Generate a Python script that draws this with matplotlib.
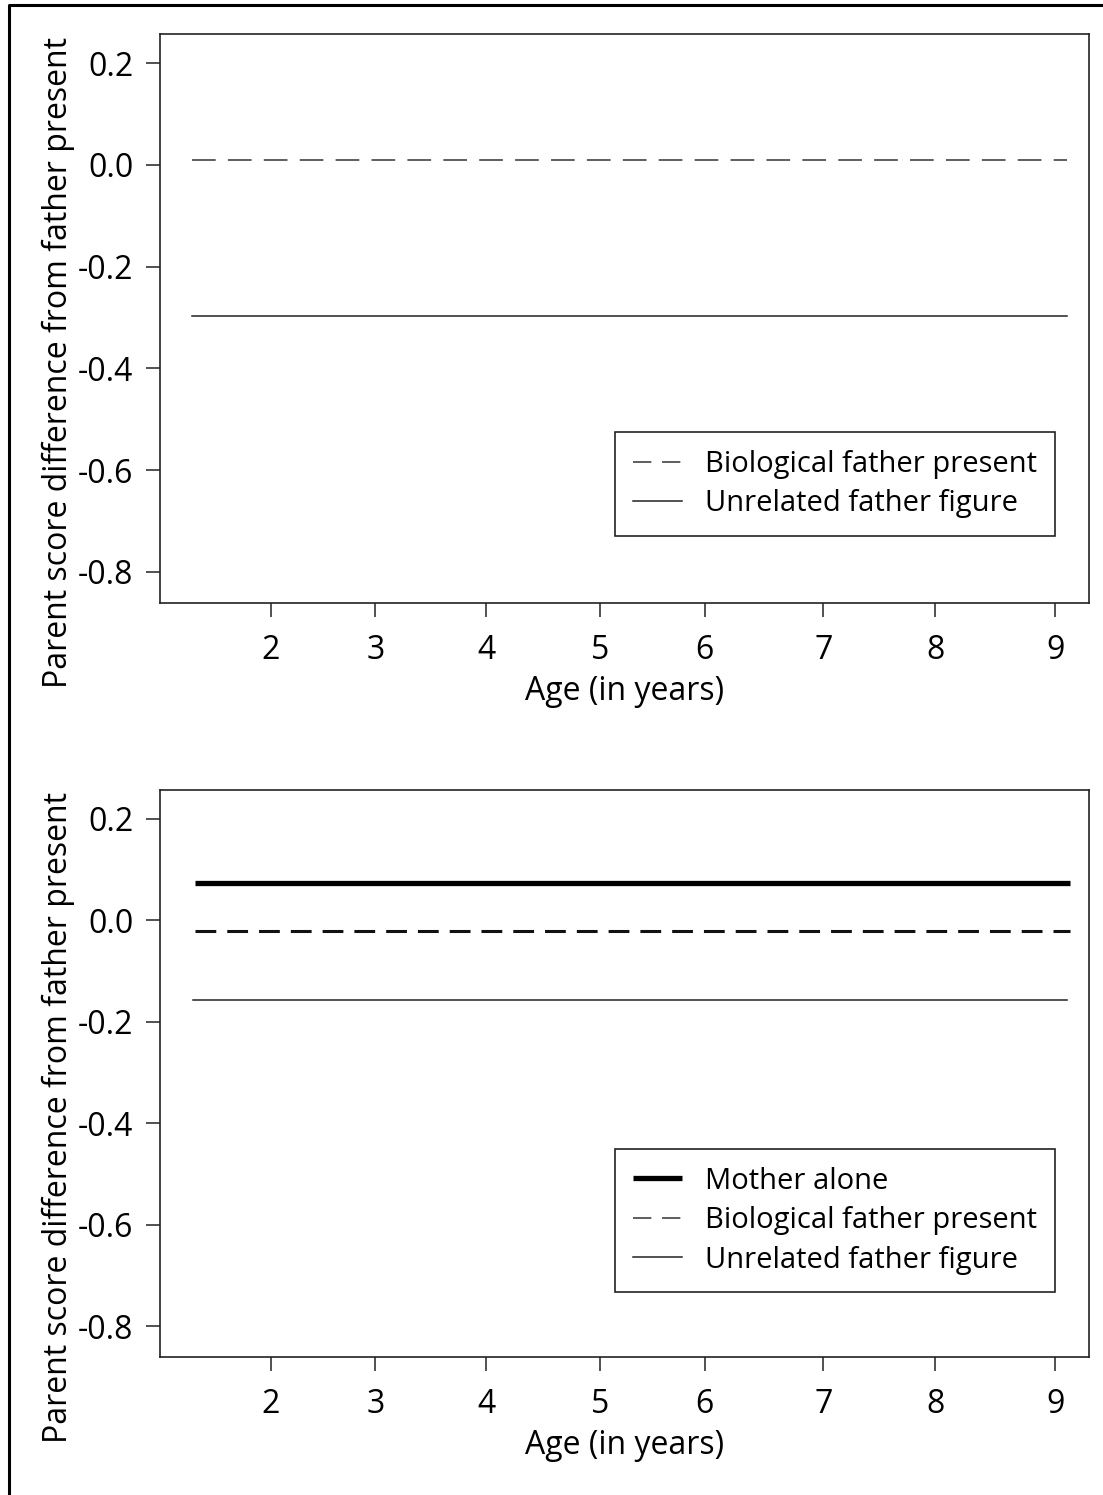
import matplotlib as mpl
mpl.use('Agg')
from matplotlib import pyplot as plt
from matplotlib.lines import Line2D

mpl.rc('font', family=['Open Sans', 'DejaVu Sans'], size=23)
mpl.rc('axes', linewidth=1.2, edgecolor='#222222')
mpl.rc('xtick.major', size=10, width=1.2, pad=12)
mpl.rc('ytick.major', size=10, width=1.2, pad=9)
mpl.rc('xtick', color='#333333', labelcolor='black')
mpl.rc('ytick', color='#333333', labelcolor='black')

# ---- data ----
age_ticks = [2.0, 2.93, 3.92, 4.94, 5.87, 6.93, 7.93, 9.0]
age_labels = ['2', '3', '4', '5', '6', '7', '8', '9']
y_ticks = [0.2, 0.0, -0.2, -0.4, -0.6, -0.8]

top_age = [1.295, 9.10]
top_bio = [0.010, 0.010]
top_unrel = [-0.297, -0.297]

bot_age = [1.32, 9.13]
bot_unrel_age = [1.30, 9.10]
bot_mother = [0.074, 0.074]
bot_bio = [-0.021, -0.021]
bot_unrel = [-0.158, -0.158]

ylab = "Parent score difference from father present"
xlab = "Age (in years)"

W, H = 1103, 1495
fig = plt.figure(figsize=(W / 100, H / 100), dpi=100)

ax1 = fig.add_axes([160 / W, 1 - 603 / H, 929 / W, 569 / H])
ax2 = fig.add_axes([160 / W, 1 - 1357 / H, 929 / W, 567 / H])


def style(ax):
    ax.set_xlim(1.009, 9.30)
    ax.set_ylim(-0.861, 0.257)
    ax.set_xticks(age_ticks)
    ax.set_xticklabels(age_labels)
    ax.set_yticks(y_ticks)
    ax.set_yticklabels(['%.1f' % v for v in y_ticks])
    ax.set_xlabel(xlab, labelpad=6)
    ax.set_ylabel(ylab)
    hpx = ax.get_position().height * H
    ax.yaxis.set_label_coords(-0.092, 0.5 - 44 / hpx)


legkw = dict(loc='lower right', borderaxespad=0, fancybox=False, edgecolor='#222222',
             handlelength=1.7, handletextpad=0.8, labelspacing=0.36, borderpad=0.6,
             framealpha=1, fontsize=21)

# top panel
ax1.plot(top_age, top_bio, c='#333333', lw=1.1, ls=(0, (15.5, 8)), label='Biological father present')
ax1.plot(top_age, top_unrel, c='#222222', lw=1.1, label='Unrelated father figure')
style(ax1)
leg = ax1.legend(bbox_to_anchor=(0.9634, 0.1178), **legkw)
leg.get_frame().set_linewidth(1.2)
leg.get_lines()[0].set_linestyle((0, (12, 7)))

# bottom panel
ax2.plot(bot_age, bot_mother, c='black', lw=3.8, solid_capstyle='butt', label='Mother alone')
ax2.plot(bot_age, bot_bio, c='#111111', lw=2.2, ls=(0, (6.8, 3.6)), label='Biological father present')
ax2.plot(bot_unrel_age, bot_unrel, c='#222222', lw=1.1, label='Unrelated father figure')
style(ax2)
h, l = ax2.get_legend_handles_labels()
hs = [Line2D([], [], c='black', lw=3.8, solid_capstyle='butt'),
      Line2D([], [], c='#333333', lw=1.1, ls=(0, (12, 7))),
      Line2D([], [], c='#222222', lw=1.1)]
leg2 = ax2.legend(hs, l, bbox_to_anchor=(0.9634, 0.1146), **legkw)
leg2.get_frame().set_linewidth(1.2)

# page border (top and left only)
fig.add_artist(Line2D([9 / W, 9 / W, 1], [0, 1 - 5 / H, 1 - 5 / H],
                      transform=fig.transFigure, c='black', lw=2.2))

fig.savefig('out.png', dpi=100)
